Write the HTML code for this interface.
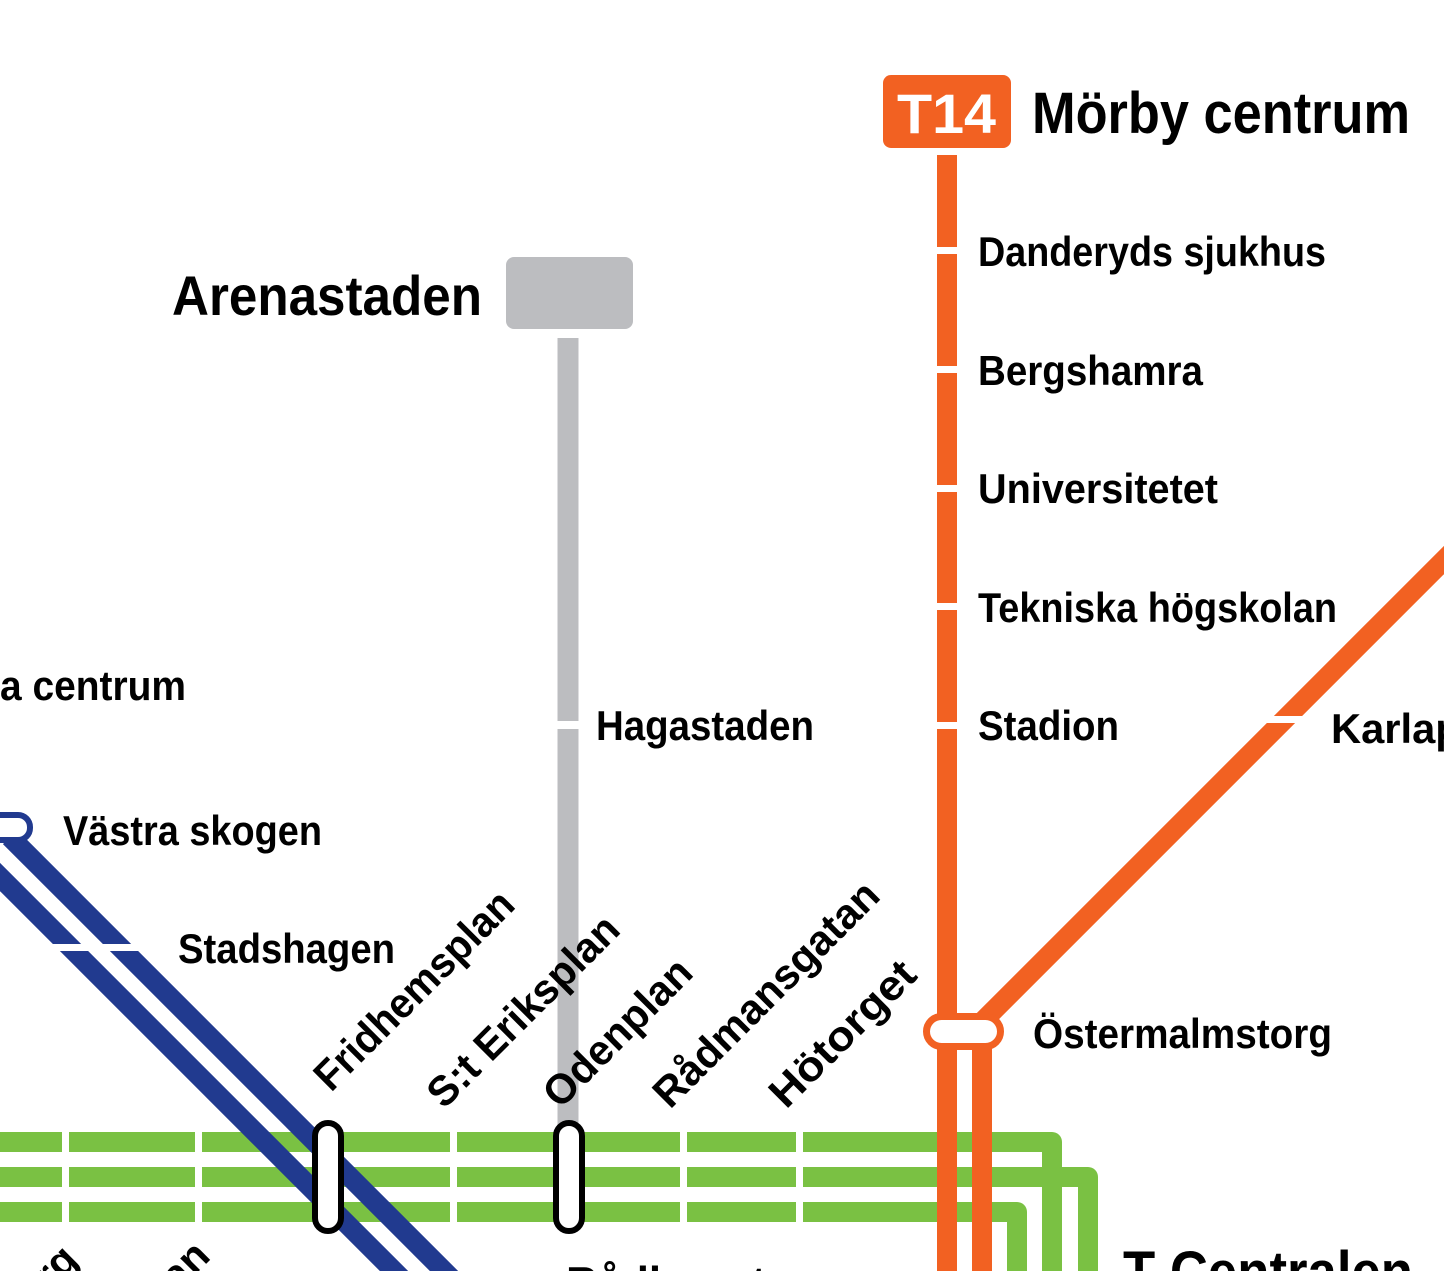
<!DOCTYPE html>
<html><head><meta charset="utf-8"><style>
html,body{margin:0;padding:0;background:#fff;width:1444px;height:1271px;overflow:hidden}
svg{display:block}
svg text{font-family:"Liberation Sans Narrow","Liberation Sans",sans-serif;font-weight:bold;fill:#000}
</style></head><body>
<svg width="1444" height="1271" viewBox="0 0 1444 1271" xmlns="http://www.w3.org/2000/svg">
<g fill="none" stroke="#7ac143" stroke-width="20" stroke-linejoin="round">
<path d="M-10 1142 H1052 V1280"/>
<path d="M-10 1177 H1088 V1280"/>
<path d="M-10 1212 H1017 V1280"/>
</g>
<g fill="#fff">
<rect x="62" y="1125" width="7" height="100"/>
<rect x="195" y="1125" width="7" height="100"/>
<rect x="450" y="1125" width="7" height="100"/>
<rect x="680" y="1125" width="7" height="100"/>
<rect x="796" y="1125" width="7" height="100"/>
</g>
<rect x="506" y="257" width="127" height="72" rx="8" fill="#bcbdc0"/>
<line x1="568" y1="338" x2="568" y2="1130" stroke="#bcbdc0" stroke-width="21"/>
<rect x="550" y="721" width="40" height="8" fill="#fff"/>
<g stroke="#213a8f" stroke-width="20" fill="none">
<line x1="-30" y1="847" x2="464" y2="1341"/>
<line x1="10" y1="837" x2="504" y2="1331"/>
</g>
<rect x="50" y="944" width="95" height="7" fill="#fff"/>
<rect x="-40" y="815" width="70" height="25" rx="12" fill="#fff" stroke="#213a8f" stroke-width="6"/>
<g stroke="#f26122" stroke-width="20" fill="none">
<line x1="947" y1="155" x2="947" y2="1280"/>
<line x1="982" y1="1032" x2="982" y2="1280"/>
<line x1="1470" y1="534" x2="975" y2="1029"/>
</g>
<g fill="#fff">
<rect x="930" y="247" width="35" height="7"/>
<rect x="930" y="366" width="35" height="7"/>
<rect x="930" y="485" width="35" height="7"/>
<rect x="930" y="603" width="35" height="7"/>
<rect x="930" y="722" width="35" height="7"/>
<rect x="1258" y="716" width="50" height="7"/>
</g>
<rect x="883" y="75" width="128" height="73" rx="8" fill="#f26122"/>
<text x="897" y="133" font-size="56" textLength="99" lengthAdjust="spacingAndGlyphs" style="fill:#fff">T14</text>
<rect x="926.5" y="1016.5" width="74" height="30" rx="15" fill="#fff" stroke="#f26122" stroke-width="7"/>
<rect x="315" y="1123" width="26" height="108" rx="13" fill="#fff" stroke="#000" stroke-width="6"/>
<rect x="556" y="1123" width="26" height="108" rx="13" fill="#fff" stroke="#000" stroke-width="6"/>
<text x="1032" y="133" font-size="58" textLength="378" lengthAdjust="spacingAndGlyphs">Mörby centrum</text>
<text x="172" y="315" font-size="56" textLength="310" lengthAdjust="spacingAndGlyphs">Arenastaden</text>
<text x="978" y="266" font-size="42" textLength="348" lengthAdjust="spacingAndGlyphs">Danderyds sjukhus</text>
<text x="978" y="385" font-size="42" textLength="225" lengthAdjust="spacingAndGlyphs">Bergshamra</text>
<text x="978" y="503" font-size="42" textLength="240" lengthAdjust="spacingAndGlyphs">Universitetet</text>
<text x="978" y="622" font-size="42" textLength="359" lengthAdjust="spacingAndGlyphs">Tekniska högskolan</text>
<text x="978" y="740" font-size="42" textLength="141" lengthAdjust="spacingAndGlyphs">Stadion</text>
<text x="1331" y="743" font-size="42" textLength="190" lengthAdjust="spacingAndGlyphs">Karlaplan</text>
<text x="596" y="740" font-size="42" textLength="218" lengthAdjust="spacingAndGlyphs">Hagastaden</text>
<text x="0" y="700" font-size="42" textLength="186" lengthAdjust="spacingAndGlyphs">a centrum</text>
<text x="63" y="845" font-size="42" textLength="259" lengthAdjust="spacingAndGlyphs">Västra skogen</text>
<text x="178" y="963" font-size="42" textLength="217" lengthAdjust="spacingAndGlyphs">Stadshagen</text>
<text x="1033" y="1048" font-size="42" textLength="299" lengthAdjust="spacingAndGlyphs">Östermalmstorg</text>
<text x="1123" y="1292" font-size="58" textLength="290" lengthAdjust="spacingAndGlyphs">T-Centralen</text>
<text x="566" y="1299" font-size="46" textLength="200" lengthAdjust="spacingAndGlyphs">Rådhuset</text>
<text transform="translate(331,1093) rotate(-45)" font-size="42" textLength="263" lengthAdjust="spacingAndGlyphs">Fridhemsplan</text>
<text transform="translate(444,1110) rotate(-45)" font-size="42" textLength="252" lengthAdjust="spacingAndGlyphs">S:t Eriksplan</text>
<text transform="translate(560,1110) rotate(-45)" font-size="42" textLength="191" lengthAdjust="spacingAndGlyphs">Odenplan</text>
<text transform="translate(670,1110) rotate(-45)" font-size="42" textLength="300" lengthAdjust="spacingAndGlyphs">Rådmansgatan</text>
<text transform="translate(786,1110) rotate(-45)" font-size="42" textLength="188" lengthAdjust="spacingAndGlyphs">Hötorget</text>
<text transform="translate(80,1262) rotate(-45)" font-size="42" text-anchor="end">Kristineberg</text>
<text transform="translate(212,1258) rotate(-45)" font-size="42" text-anchor="end">Thorildsplan</text>
</svg>
</body></html>
